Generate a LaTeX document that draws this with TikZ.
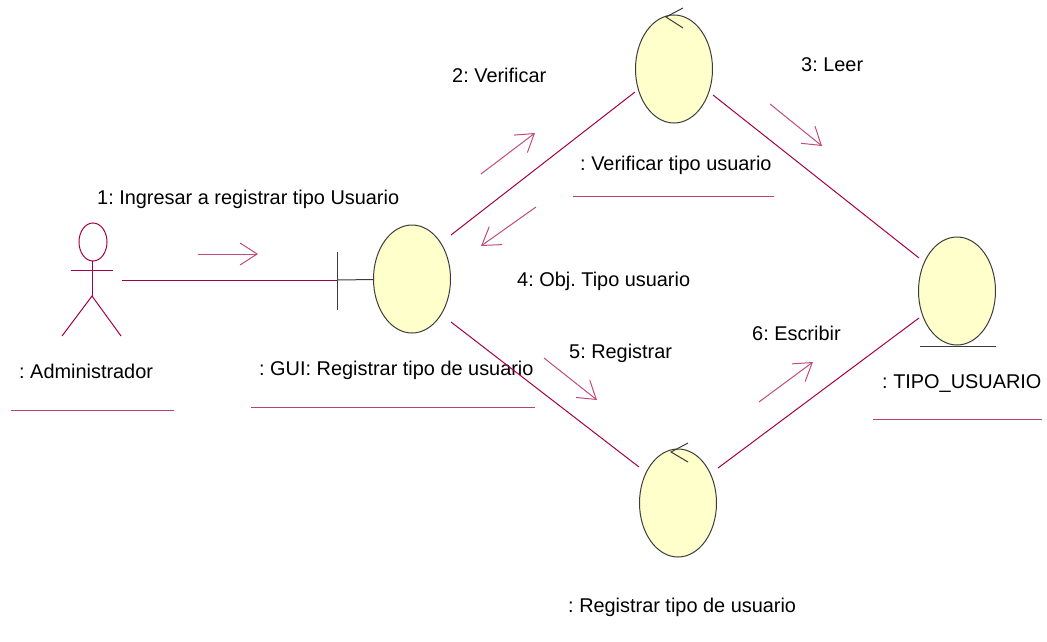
\documentclass[tikz,border=0pt]{standalone}
\usepackage{fontspec}
\setmainfont{Liberation Sans}
\usetikzlibrary{arrows.meta,shapes.geometric}
\definecolor{enlace}{HTML}{A50044}
\definecolor{relleno}{HTML}{FFFFCB}
\definecolor{borde}{HTML}{3C3C3C}
\tikzset{
  objeto/.style={ellipse,draw=borde,fill=relleno,line width=1pt,inner sep=0pt,outer sep=0pt,minimum width=77pt,minimum height=108pt},
  texto/.style={anchor=base west,inner sep=0pt,font=\fontsize{19.9}{24}\selectfont},
  mensaje/.style={draw=enlace!70,line width=1pt,-{Straight Barb[length=17pt,width=22pt]}},
  raya/.style={draw=enlace!75,line width=1pt}
}
\begin{document}
\frenchspacing
\begin{tikzpicture}[x=1pt,y=-1pt]
      \useasboundingbox (0,0) rectangle (1047,642);
      \draw
        (412,279) node[objeto] (gui){}
        (674,69) node[objeto] (verif){}
        (957,291) node[objeto] (tipo){}
        (678,503) node[objeto] (regis){};
      \draw
        (97,204) node[texto] (m1){1: Ingresar a registrar tipo Usuario}
        (452,82) node[texto] (m2){2: Verificar}
        (801,71) node[texto] (m3){3: Leer}
        (517,286) node[texto] (m4){4: Obj. Tipo usuario}
        (569,358) node[texto] (m5){5: Registrar}
        (752,340) node[texto] (m6){6: Escribir}
        (19,378) node[texto] (tadmin){: Administrador}
        (259,375) node[texto] (tgui){: GUI: Registrar tipo de usuario}
        (580,170) node[texto] (tverif){: Verificar tipo usuario}
        (882,388) node[texto] (ttipo){: TIPO\_USUARIO}
        (568,612) node[texto] (tregis){: Registrar tipo de usuario};
      \coordinate (actor) at (122,280);
      \coordinate (barra) at (337,280);
      \coordinate (guiA) at (451,235);
      \coordinate (guiB) at (451,322);
      \coordinate (verifA) at (635,92);
      \coordinate (verifB) at (713,95);
      \coordinate (tipoA) at (919,258);
      \coordinate (tipoB) at (919,318);
      \coordinate (regisA) at (639,467);
      \coordinate (regisB) at (718,468);
      % actor
      \begin{scope}[line width=1pt]
        \draw[enlace] (93,242) ellipse (14 and 19);
        \draw[enlace] (92,261) -- (92,296);
        \draw[enlace] (71,270) -- (113,270);
        \draw[enlace] (62,336) -- (92,296) -- (121,336);
      \end{scope}
      % estereotipos
      \begin{scope}[borde,line width=1pt]
        \draw (337,252) -- (337,310);
        \draw (barra) to (gui);
        \draw (683,8) -- (666,17) -- (683,28);
        \draw (688,443) -- (671,452) -- (688,462);
        \draw (920,346) -- (996,346);
      \end{scope}
      % enlaces
      \begin{scope}[enlace,line width=1pt]
        \draw (actor) to (barra);
        \draw (guiA) to (verifA);
        \draw (verifB) to (tipoA);
        \draw (guiB) to (regisA);
        \draw (regisB) to (tipoB);
      \end{scope}
      % mensajes
      \draw[mensaje] (198,254) -- (258,254);
      \draw[mensaje] (481,174) -- (535,133);
      \draw[mensaje] (770,104) -- (822,146);
      \draw[mensaje] (536,207) -- (481,246);
      \draw[mensaje] (544,358) -- (597,400);
      \draw[mensaje] (759,402) -- (813,362);
      % subrayados
      \draw[raya] (11,410) -- (174,410);
      \draw[raya] (251,407) -- (535,407);
      \draw[raya] (573,196) -- (774,196);
      \draw[raya] (873,419) -- (1042,419);
    \end{tikzpicture}
\end{document}
